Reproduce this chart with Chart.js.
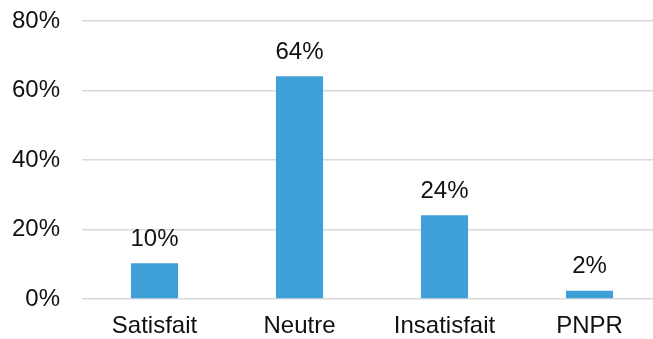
<!DOCTYPE html>
<html>
<head>
<meta charset="utf-8">
<script src="https://cdn.jsdelivr.net/npm/chart.js@4"></script>
<style>
  html, body { margin: 0; padding: 0; background: #fff; overflow: hidden; }
  #wrap { width: 653px; height: 339px; overflow: hidden; }
</style>
</head>
<body>
<div id="wrap"><canvas id="myBarChart" width="662" height="339"></canvas></div>
<script>
const categories = ['Satisfait', 'Neutre', 'Insatisfait', 'PNPR'];
const values = [10.3, 64.1, 24.1, 2.4];
const yTicks = [0, 20, 40, 60, 80];

const fontFamily = '"Liberation Sans", Arial, sans-serif';

// etiquettes de valeur au-dessus des barres
const valueLabels = {
    id: 'valueLabels',
    afterDatasetsDraw(chart) {
        const ctx = chart.ctx;
        const meta = chart.getDatasetMeta(0);
        ctx.save();
        ctx.font = '24px ' + fontFamily;
        ctx.fillStyle = '#111';
        ctx.textAlign = 'center';
        ctx.textBaseline = 'bottom';
        meta.data.forEach((bar, i) => {
            ctx.fillText(Math.round(values[i]) + '%', bar.x, bar.y - 12);
        });
        ctx.restore();
    }
};

const config = {
    type: 'bar',
    data: {
        labels: categories,
        datasets: [{
            data: values,
            backgroundColor: '#3FA0D8',
            borderWidth: 0,
            barPercentage: 0.325,
            categoryPercentage: 1
        }]
    },
    options: {
        responsive: false,
        animation: false,
        layout: { padding: { left: 0, right: 0, top: 21, bottom: 0 } },
        plugins: {
            legend: { display: false },
            tooltip: { enabled: false }
        },
        scales: {
            x: {
                grid: { display: false, drawTicks: false },
                border: { display: false },
                afterFit(axis) {
                    axis.height = 40;
                    axis.paddingLeft = 0;
                    axis.paddingRight = 0;
                },
                ticks: {
                    color: '#111',
                    padding: 13,
                    font: { family: fontFamily, size: 24 }
                }
            },
            y: {
                min: 0,
                max: 80,
                afterBuildTicks(axis) {
                    axis.ticks = yTicks.map(v => ({ value: v }));
                },
                afterFit(axis) {
                    axis.width = 82;
                    axis.paddingTop = 0;
                    axis.paddingBottom = 0;
                },
                grid: { color: '#d9d9d9', lineWidth: 1.5, drawTicks: false },
                border: { display: false },
                ticks: {
                    color: '#111',
                    padding: 22,
                    font: { family: fontFamily, size: 24 },
                    callback: v => v + '%'
                }
            }
        }
    },
    plugins: [valueLabels]
};

const ctx = document.getElementById('myBarChart').getContext('2d');
new Chart(ctx, config);
</script>
</body>
</html>
